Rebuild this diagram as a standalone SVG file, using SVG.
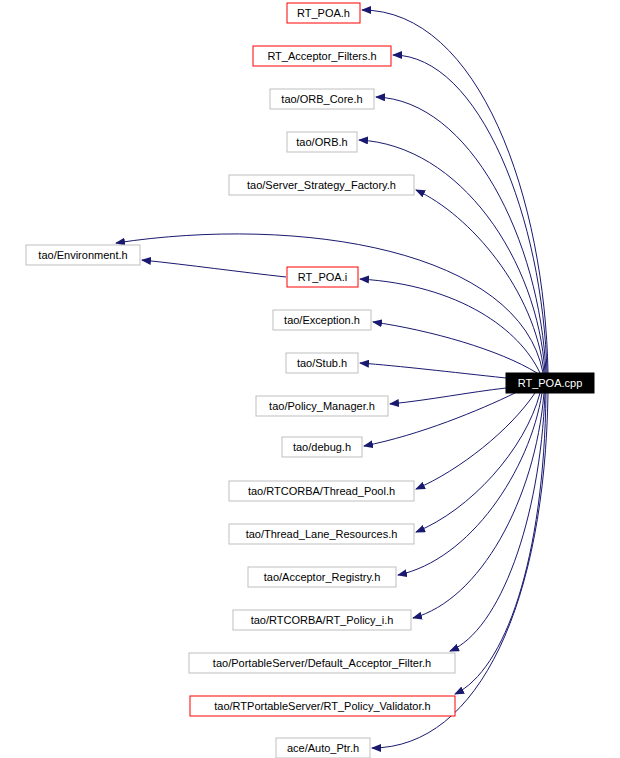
<svg xmlns="http://www.w3.org/2000/svg" width="620" height="758" viewBox="0 0 620 758">
<style>
.n rect{fill:#fff;stroke:#bfbfbf;stroke-width:1}
.r rect{stroke:#f00}
text{font-family:"Liberation Sans",Arial,sans-serif;font-size:11px;text-anchor:middle;fill:#000}
.e path{fill:none;stroke:#191970;stroke-width:1;marker-end:url(#a)}
</style>
<defs><marker id="a" markerWidth="10" markerHeight="8" refX="9" refY="4" orient="auto" markerUnits="userSpaceOnUse"><path d="M0,0L10,4L0,8z" fill="#191970"/></marker></defs>
<rect width="620" height="758" fill="#fff"/>
<g class="e">
<path d="M548,373C545,200 480,10 362,10"/>
<path d="M547,373C543,220 480,55 393,55"/>
<path d="M546,373C540,240 470,100 376,97"/>
<path d="M545,373C538,260 460,145 359,140"/>
<path d="M544,373C535,290 470,215 416,190"/>
<path d="M543,373C520,250 300,215 116,243"/>
<path d="M540,373C520,330 460,285 360,279"/>
<path d="M537,373C500,350 430,330 373,322"/>
<path d="M506,378C450,372 400,366 360,363"/>
<path d="M506,388C470,392 430,400 390,404"/>
<path d="M515,393C480,410 420,435 364,446"/>
<path d="M535,393C510,430 460,470 416,489"/>
<path d="M540,393C525,450 470,510 416,532"/>
<path d="M542,393C530,470 470,560 398,575"/>
<path d="M544,393C535,500 480,600 413,618"/>
<path d="M545,393C540,520 500,630 450,651"/>
<path d="M546,393C544,560 505,670 455,694"/>
<path d="M548,393C545,600 480,748 372,748"/>
<path d="M286,277C240,272 190,265 142,260"/>
</g>
<g id="n1" class="n r"><rect x="287" y="3" width="73" height="20"/><text x="323.5" y="17">RT_POA.h</text></g>
<g id="n2" class="n r"><rect x="253" y="46" width="138" height="20"/><text x="322" y="60">RT_Acceptor_Filters.h</text></g>
<g id="n3" class="n"><rect x="270" y="89" width="104" height="20"/><text x="322" y="103">tao/ORB_Core.h</text></g>
<g id="n4" class="n"><rect x="287" y="132" width="70" height="20"/><text x="322" y="146">tao/ORB.h</text></g>
<g id="n5" class="n"><rect x="229" y="175" width="185" height="20"/><text x="321.5" y="189">tao/Server_Strategy_Factory.h</text></g>
<g id="n6" class="n"><rect x="26" y="245" width="114" height="20"/><text x="83" y="259">tao/Environment.h</text></g>
<g id="n7" class="n r"><rect x="287" y="267" width="71" height="20"/><text x="322.5" y="281">RT_POA.i</text></g>
<g id="n8" class="n"><rect x="273" y="310" width="98" height="20"/><text x="322" y="324">tao/Exception.h</text></g>
<g id="n9" class="n"><rect x="286" y="353" width="72" height="20"/><text x="322" y="367">tao/Stub.h</text></g>
<g id="n0"><rect x="506" y="373" width="88" height="20" fill="#000" stroke="#000"/><text x="550" y="387" style="fill:#fff">RT_POA.cpp</text></g>
<g id="n10" class="n"><rect x="256" y="396" width="132" height="20"/><text x="322" y="410">tao/Policy_Manager.h</text></g>
<g id="n11" class="n"><rect x="282" y="437" width="80" height="20"/><text x="322" y="451">tao/debug.h</text></g>
<g id="n12" class="n"><rect x="229" y="481" width="185" height="20"/><text x="321.5" y="495">tao/RTCORBA/Thread_Pool.h</text></g>
<g id="n13" class="n"><rect x="229" y="524" width="185" height="20"/><text x="321.5" y="538">tao/Thread_Lane_Resources.h</text></g>
<g id="n14" class="n"><rect x="248" y="567" width="148" height="20"/><text x="322" y="581">tao/Acceptor_Registry.h</text></g>
<g id="n15" class="n"><rect x="233" y="610" width="178" height="20"/><text x="322" y="624">tao/RTCORBA/RT_Policy_i.h</text></g>
<g id="n16" class="n"><rect x="189" y="653" width="266" height="20"/><text x="322" y="667">tao/PortableServer/Default_Acceptor_Filter.h</text></g>
<g id="n17" class="n r"><rect x="190" y="696" width="265" height="20"/><text x="322.5" y="710">tao/RTPortableServer/RT_Policy_Validator.h</text></g>
<g id="n18" class="n"><rect x="276" y="738" width="94" height="20"/><text x="323" y="752">ace/Auto_Ptr.h</text></g>
</svg>
